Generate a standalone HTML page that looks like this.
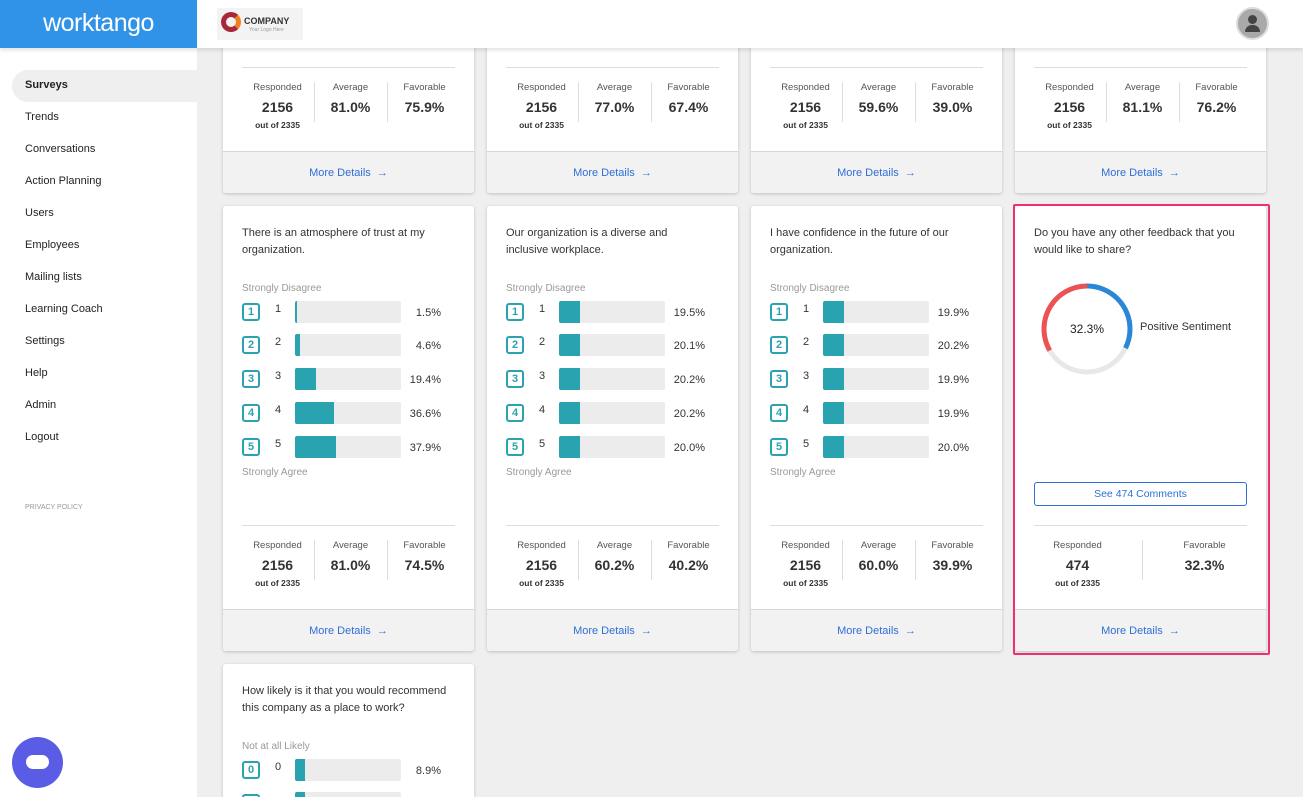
<!DOCTYPE html>
<html><head><meta charset="utf-8"><style>
*{box-sizing:border-box;margin:0;padding:0}
html{width:1303px;height:797px;overflow:hidden}
body{width:1303px;height:797px;overflow:hidden;background:#efefef;font-family:"Liberation Sans",sans-serif;color:#333;position:relative}
.hdr{position:absolute;left:0;top:0;width:1303px;height:48px;background:#fff;z-index:10;box-shadow:0 2px 4px rgba(0,0,0,.12)}
.logo{position:absolute;left:0;top:0;width:197px;height:48px;background:#3193e8;color:#fff;font-size:25px;text-align:center;line-height:46px;letter-spacing:-0.5px}
.side{position:absolute;left:0;top:48px;width:197px;height:749px;background:#fff}
.nav{position:absolute;left:25px;font-size:11px;color:#222}
.sel{position:absolute;left:12px;top:22px;width:185px;height:32px;background:#efefef;border-radius:16px 0 0 16px}
.card{position:absolute;width:251px;height:445px;background:#fff;border-radius:3px;box-shadow:0 1px 3px rgba(0,0,0,.2);overflow:hidden}
.t{position:absolute;left:19px;top:19px;width:205px;font-size:11px;line-height:17px;color:#333}
.lab{position:absolute;left:19px;font-size:10px;color:#999}
.ic{position:absolute;left:19px;width:18px;height:18px;border:2px solid #2aa3b0;border-radius:3px;color:#2aa3b0;font-size:11px;font-weight:bold;text-align:center;line-height:14px}
.n{position:absolute;left:52px;font-size:11px;color:#333}
.bar{position:absolute;left:72px;width:106px;height:22px;background:#ececec;border-radius:2px;overflow:hidden}
.bar i{display:block;height:22px;background:#2aa3b0}
.p{position:absolute;right:33px;font-size:11px;color:#333;text-align:right}
.div{position:absolute;left:19px;width:213px;height:1px;background:#ddd;top:319px}
.st{position:absolute;text-align:center;width:71px}
.st .a{position:absolute;top:334px;width:100%;font-size:9.5px;color:#555}
.st .b{position:absolute;top:351px;width:100%;font-size:14px;font-weight:bold;color:#333}
.st .c{position:absolute;top:372px;width:100%;font-size:8.5px;font-weight:bold;color:#333}
.vd{position:absolute;top:334px;width:1px;height:40px;background:#ddd}
.ft{position:absolute;left:0;top:403px;width:251px;height:42px;background:#f2f2f2;border-top:1px solid #d6d6d6;text-align:center;line-height:42px;font-size:11px;color:#2f6fd6}
</style></head><body>
<div class="hdr">
<div class="logo">worktango</div>
<div style="position:absolute;left:217px;top:8px;width:86px;height:32px;background:#f3f3f3">
<div style="position:absolute;left:4px;top:4px;width:20px;height:20px;border-radius:50%;border:5px solid #a8283a;border-right-color:#f08020"></div>
<div style="position:absolute;left:27px;top:8px;font-size:9px;font-weight:bold;color:#333">COMPANY</div>
<div style="position:absolute;left:32px;top:19px;font-size:5px;color:#999">Your Logo Here</div></div>
<div style="position:absolute;left:1236px;top:7px;width:33px;height:33px;border-radius:50%;background:#a9a9a9;border:2px solid #ddd"></div>
<div style="position:absolute;left:1248px;top:15px;width:9px;height:9px;border-radius:50%;background:#444"></div>
<div style="position:absolute;left:1245px;top:25px;width:15px;height:7px;border-radius:7px 7px 0 0;background:#444"></div>
</div>
<div class="side">
<div class="sel"></div>
<div class="nav" style="top:31px;font-weight:bold">Surveys</div>
<div class="nav" style="top:63px">Trends</div>
<div class="nav" style="top:95px">Conversations</div>
<div class="nav" style="top:127px">Action Planning</div>
<div class="nav" style="top:159px">Users</div>
<div class="nav" style="top:191px">Employees</div>
<div class="nav" style="top:223px">Mailing lists</div>
<div class="nav" style="top:255px">Learning Coach</div>
<div class="nav" style="top:287px">Settings</div>
<div class="nav" style="top:319px">Help</div>
<div class="nav" style="top:351px">Admin</div>
<div class="nav" style="top:383px">Logout</div>
<div class="nav" style="top:456px;font-size:7px;color:#999">PRIVACY POLICY</div>
</div>
<div style="position:absolute;left:12px;top:737px;width:51px;height:51px;border-radius:50%;background:#5a5ce6;z-index:5"><div style="position:absolute;left:14px;top:18px;width:23px;height:14px;background:#fff;border-radius:7px"></div></div>

<div class="card" style="left:223px;top:-252px"><div class="div"></div>
<div class="st" style="left:19px"><div class="a">Responded</div><div class="b">2156</div><div class="c">out of 2335</div></div><div class="vd" style="left:91px"></div>
<div class="st" style="left:92px"><div class="a">Average</div><div class="b">81.0%</div></div><div class="vd" style="left:164px"></div>
<div class="st" style="left:166px"><div class="a">Favorable</div><div class="b">75.9%</div></div>
<div class="ft">More Details &nbsp;→</div></div>
<div class="card" style="left:487px;top:-252px"><div class="div"></div>
<div class="st" style="left:19px"><div class="a">Responded</div><div class="b">2156</div><div class="c">out of 2335</div></div><div class="vd" style="left:91px"></div>
<div class="st" style="left:92px"><div class="a">Average</div><div class="b">77.0%</div></div><div class="vd" style="left:164px"></div>
<div class="st" style="left:166px"><div class="a">Favorable</div><div class="b">67.4%</div></div>
<div class="ft">More Details &nbsp;→</div></div>
<div class="card" style="left:751px;top:-252px"><div class="div"></div>
<div class="st" style="left:19px"><div class="a">Responded</div><div class="b">2156</div><div class="c">out of 2335</div></div><div class="vd" style="left:91px"></div>
<div class="st" style="left:92px"><div class="a">Average</div><div class="b">59.6%</div></div><div class="vd" style="left:164px"></div>
<div class="st" style="left:166px"><div class="a">Favorable</div><div class="b">39.0%</div></div>
<div class="ft">More Details &nbsp;→</div></div>
<div class="card" style="left:1015px;top:-252px"><div class="div"></div>
<div class="st" style="left:19px"><div class="a">Responded</div><div class="b">2156</div><div class="c">out of 2335</div></div><div class="vd" style="left:91px"></div>
<div class="st" style="left:92px"><div class="a">Average</div><div class="b">81.1%</div></div><div class="vd" style="left:164px"></div>
<div class="st" style="left:166px"><div class="a">Favorable</div><div class="b">76.2%</div></div>
<div class="ft">More Details &nbsp;→</div></div>

<div class="card" style="left:223px;top:206px">
<div class="t">There is an atmosphere of trust at my organization.</div>
<div class="lab" style="top:77px">Strongly Disagree</div>
<div class="ic" style="top:97px">1</div><div class="n" style="top:97px">1</div><div class="bar" style="top:95px"><i style="width:2px"></i></div><div class="p" style="top:101px">1.5%</div>
<div class="ic" style="top:130px">2</div><div class="n" style="top:130px">2</div><div class="bar" style="top:128px"><i style="width:5px"></i></div><div class="p" style="top:134px">4.6%</div>
<div class="ic" style="top:164px">3</div><div class="n" style="top:164px">3</div><div class="bar" style="top:162px"><i style="width:21px"></i></div><div class="p" style="top:168px">19.4%</div>
<div class="ic" style="top:198px">4</div><div class="n" style="top:198px">4</div><div class="bar" style="top:196px"><i style="width:39px"></i></div><div class="p" style="top:202px">36.6%</div>
<div class="ic" style="top:232px">5</div><div class="n" style="top:232px">5</div><div class="bar" style="top:230px"><i style="width:41px"></i></div><div class="p" style="top:236px">37.9%</div>
<div class="lab" style="top:261px">Strongly Agree</div>
<div class="div"></div>
<div class="st" style="left:19px"><div class="a">Responded</div><div class="b">2156</div><div class="c">out of 2335</div></div><div class="vd" style="left:91px"></div>
<div class="st" style="left:92px"><div class="a">Average</div><div class="b">81.0%</div></div><div class="vd" style="left:164px"></div>
<div class="st" style="left:166px"><div class="a">Favorable</div><div class="b">74.5%</div></div>
<div class="ft">More Details &nbsp;→</div></div>

<div class="card" style="left:487px;top:206px">
<div class="t">Our organization is a diverse and inclusive workplace.</div>
<div class="lab" style="top:77px">Strongly Disagree</div>
<div class="ic" style="top:97px">1</div><div class="n" style="top:97px">1</div><div class="bar" style="top:95px"><i style="width:21px"></i></div><div class="p" style="top:101px">19.5%</div>
<div class="ic" style="top:130px">2</div><div class="n" style="top:130px">2</div><div class="bar" style="top:128px"><i style="width:21px"></i></div><div class="p" style="top:134px">20.1%</div>
<div class="ic" style="top:164px">3</div><div class="n" style="top:164px">3</div><div class="bar" style="top:162px"><i style="width:21px"></i></div><div class="p" style="top:168px">20.2%</div>
<div class="ic" style="top:198px">4</div><div class="n" style="top:198px">4</div><div class="bar" style="top:196px"><i style="width:21px"></i></div><div class="p" style="top:202px">20.2%</div>
<div class="ic" style="top:232px">5</div><div class="n" style="top:232px">5</div><div class="bar" style="top:230px"><i style="width:21px"></i></div><div class="p" style="top:236px">20.0%</div>
<div class="lab" style="top:261px">Strongly Agree</div>
<div class="div"></div>
<div class="st" style="left:19px"><div class="a">Responded</div><div class="b">2156</div><div class="c">out of 2335</div></div><div class="vd" style="left:91px"></div>
<div class="st" style="left:92px"><div class="a">Average</div><div class="b">60.2%</div></div><div class="vd" style="left:164px"></div>
<div class="st" style="left:166px"><div class="a">Favorable</div><div class="b">40.2%</div></div>
<div class="ft">More Details &nbsp;→</div></div>

<div class="card" style="left:751px;top:206px">
<div class="t">I have confidence in the future of our organization.</div>
<div class="lab" style="top:77px">Strongly Disagree</div>
<div class="ic" style="top:97px">1</div><div class="n" style="top:97px">1</div><div class="bar" style="top:95px"><i style="width:21px"></i></div><div class="p" style="top:101px">19.9%</div>
<div class="ic" style="top:130px">2</div><div class="n" style="top:130px">2</div><div class="bar" style="top:128px"><i style="width:21px"></i></div><div class="p" style="top:134px">20.2%</div>
<div class="ic" style="top:164px">3</div><div class="n" style="top:164px">3</div><div class="bar" style="top:162px"><i style="width:21px"></i></div><div class="p" style="top:168px">19.9%</div>
<div class="ic" style="top:198px">4</div><div class="n" style="top:198px">4</div><div class="bar" style="top:196px"><i style="width:21px"></i></div><div class="p" style="top:202px">19.9%</div>
<div class="ic" style="top:232px">5</div><div class="n" style="top:232px">5</div><div class="bar" style="top:230px"><i style="width:21px"></i></div><div class="p" style="top:236px">20.0%</div>
<div class="lab" style="top:261px">Strongly Agree</div>
<div class="div"></div>
<div class="st" style="left:19px"><div class="a">Responded</div><div class="b">2156</div><div class="c">out of 2335</div></div><div class="vd" style="left:91px"></div>
<div class="st" style="left:92px"><div class="a">Average</div><div class="b">60.0%</div></div><div class="vd" style="left:164px"></div>
<div class="st" style="left:166px"><div class="a">Favorable</div><div class="b">39.9%</div></div>
<div class="ft">More Details &nbsp;→</div></div>

<div style="position:absolute;left:1013px;top:204px;width:257px;height:451px;border:2px solid #f0306a;border-radius:2px;z-index:2"></div>
<div class="card" style="left:1015px;top:206px">
<div class="t">Do you have any other feedback that you would like to share?</div>
<svg style="position:absolute;left:0;top:0" width="251" height="260">
<g transform="translate(72,123) rotate(-90)" fill="none" stroke-width="5">
<circle r="43" stroke="#e8e8e8"/>
<circle r="43" stroke="#2a86d6" stroke-dasharray="87.3 300"/>
<circle r="43" stroke="#ec5252" stroke-dasharray="90.2 300" transform="rotate(240)"/>
</g>
<text x="72" y="127" text-anchor="middle" font-size="12" font-family="Liberation Sans" fill="#222">32.3%</text>
</svg>
<div style="position:absolute;left:125px;top:115px;font-size:11px;color:#333">Positive Sentiment</div>
<div style="position:absolute;left:19px;top:276px;width:213px;height:24px;border:1px solid #2f6fd6;border-radius:3px;text-align:center;line-height:22px;font-size:10.5px;color:#2f6fd6">See 474 Comments</div>
<div class="div"></div>
<div class="st" style="left:27px"><div class="a">Responded</div><div class="b">474</div><div class="c">out of 2335</div></div><div class="vd" style="left:127px"></div>
<div class="st" style="left:154px"><div class="a">Favorable</div><div class="b">32.3%</div></div>
<div class="ft">More Details &nbsp;→</div></div>

<div class="card" style="left:223px;top:664px;height:133px;border-radius:3px 3px 0 0">
<div class="t">How likely is it that you would recommend this company as a place to work?</div>
<div class="lab" style="top:77px">Not at all Likely</div>
<div class="ic" style="top:97px">0</div><div class="n" style="top:97px">0</div><div class="bar" style="top:95px"><i style="width:10px"></i></div><div class="p" style="top:101px">8.9%</div>
<div class="ic" style="top:130px">1</div><div class="bar" style="top:128px"><i style="width:10px"></i></div>
</div>
</body></html>
